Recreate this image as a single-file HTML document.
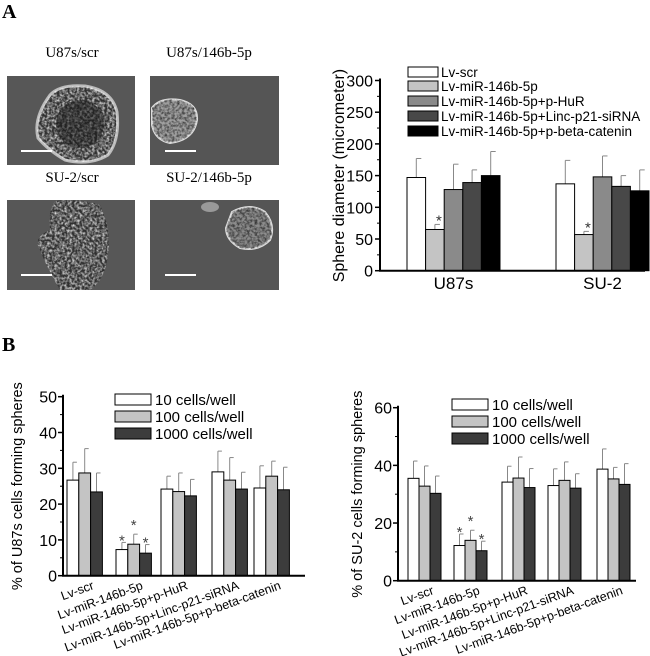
<!DOCTYPE html>
<html><head><meta charset="utf-8"><style>
body{margin:0;background:#fff;width:650px;height:656px;overflow:hidden}
svg{display:block}
.ser{font-family:"Liberation Serif",serif}
.san{font-family:"Liberation Sans",sans-serif}
</style></head><body>
<svg id="fig" width="650" height="656" viewBox="0 0 650 656">
<defs>
<filter id="tex" x="0" y="0" width="1" height="1">
<feTurbulence type="fractalNoise" baseFrequency="0.4" numOctaves="2" seed="3" result="n"/>
<feColorMatrix in="n" type="matrix" values="0 0 0 0 1  0 0 0 0 1  0 0 0 0 1  1.6 0 0 0 -0.55" result="w"/>
<feComposite in="w" in2="SourceAlpha" operator="in"/>
</filter>
<filter id="tex2" x="0" y="0" width="1" height="1">
<feTurbulence type="fractalNoise" baseFrequency="0.4" numOctaves="2" seed="7" result="n"/>
<feColorMatrix in="n" type="matrix" values="0 0 0 0 0  0 0 0 0 0  0 0 0 0 0  1.4 0 0 0 -0.5" result="w"/>
<feComposite in="w" in2="SourceAlpha" operator="in"/>
</filter>
</defs>
<text x="2" y="18" class="ser" font-size="20" font-weight="bold">A</text>
<text x="2" y="351" class="ser" font-size="20" font-weight="bold">B</text>

<g>
<text x="72" y="57" class="ser" font-size="15" text-anchor="middle">U87s/scr</text>
<text x="209" y="57" class="ser" font-size="15" text-anchor="middle">U87s/146b-5p</text>
<text x="72" y="182" class="ser" font-size="15" text-anchor="middle">SU-2/scr</text>
<text x="209" y="182" class="ser" font-size="15" text-anchor="middle">SU-2/146b-5p</text>
<g>
<rect x="7" y="76" width="128" height="89" fill="#575757"/>
<path d="M50 95 Q60 84 85 86 Q112 90 117 112 Q120 140 108 155 Q90 166 65 160 Q48 150 38 138 Q33 118 50 95Z" fill="#303030" stroke="#bbb" stroke-width="3"/>
<path d="M50 95 Q60 84 85 86 Q112 90 117 112 Q120 140 108 155 Q90 166 65 160 Q48 150 38 138 Q33 118 50 95Z" fill="#ddd" filter="url(#tex)"/>
<ellipse cx="80" cy="124" rx="24" ry="24" fill="#151515" opacity="0.5"/>
<rect x="21" y="150" width="31" height="2" fill="#fff"/>
</g>
<g>
<rect x="150" y="76" width="129" height="89" fill="#555"/>
<path d="M152 108 Q160 97 180 100 Q198 104 197 120 Q194 140 170 143 Q155 140 152 125Z" fill="#a0a0a0" stroke="#ddd" stroke-width="2"/>
<path d="M152 108 Q160 97 180 100 Q198 104 197 120 Q194 140 170 143 Q155 140 152 125Z" fill="#000" filter="url(#tex2)"/>
<rect x="165" y="150" width="31" height="2" fill="#fff"/>
</g>
<g>
<rect x="7" y="200" width="128" height="90" fill="#575757"/>
<path d="M55 201 Q80 198 100 205 Q112 230 108 255 Q105 280 90 290 L60 290 Q48 270 40 250 Q32 238 50 230 Q48 210 55 201Z" fill="#303030"/>
<path d="M55 201 Q80 198 100 205 Q112 230 108 255 Q105 280 90 290 L60 290 Q48 270 40 250 Q32 238 50 230 Q48 210 55 201Z" fill="#ddd" filter="url(#tex)"/>
<rect x="21" y="274" width="31" height="2" fill="#fff"/>
</g>
<g>
<rect x="150" y="200" width="129" height="90" fill="#555"/>
<path d="M232 212 Q250 202 265 212 Q276 225 270 240 Q258 252 240 248 Q226 240 226 228Z" fill="#8c8c8c" stroke="#ddd" stroke-width="2"/>
<path d="M232 212 Q250 202 265 212 Q276 225 270 240 Q258 252 240 248 Q226 240 226 228Z" fill="#000" filter="url(#tex2)"/>
<ellipse cx="210" cy="207" rx="9" ry="5" fill="#999"/>
<rect x="165" y="274" width="31" height="2" fill="#fff"/>
</g>
</g>
<g id="chartA"></g>
<g id="chartB1"></g>
<g id="chartB2"></g>
</svg>
<script>
const NS="http://www.w3.org/2000/svg";
// Chart A data
const aGroups=["U87s","SU-2"];
const aSeries=["Lv-scr","Lv-miR-146b-5p","Lv-miR-146b-5p+p-HuR","Lv-miR-146b-5p+Linc-p21-siRNA","Lv-miR-146b-5p+p-beta-catenin"];
const aValues=[[147,137],[65,57],[128,148],[139,133],[150,126]];
const aErrors=[[30,37],[8,5],[40,33],[20,17],[38,33]];
const aStars=[[false,false],[true,true],[false,false],[false,false],[false,false]];
const aTicks=[0,50,100,150,200,250,300];
const aColors=["#fff","#c4c4c4","#8a8a8a","#484848","#000"];
// Chart B data
const bCategories=["Lv-scr","Lv-miR-146b-5p","Lv-miR-146b-5p+p-HuR","Lv-miR-146b-5p+Linc-p21-siRNA","Lv-miR-146b-5p+p-beta-catenin"];
const bSeries=["10 cells/well","100 cells/well","1000 cells/well"];
const b1Values=[[26.7,7.3,24.2,29,24.5],[28.7,8.8,23.5,26.7,27.8],[23.4,6.3,22.3,24.2,24]];
const b1Errors=[[5,2,3.6,5.8,6.2],[6.8,2.8,5.2,6.3,4.2],[5.3,2.4,4.6,4.7,6.3]];
const b1Ticks=[0,10,20,30,40,50];
const b2Values=[[35.5,12.2,34.2,33,38.7],[32.8,14,35.6,34.8,35.3],[30.3,10.4,32.3,32.1,33.4]];
const b2Errors=[[6,4,5.5,5.8,7],[7,3.5,7.3,6.4,4],[6,3.3,6.6,5,7.2]];
const b2Ticks=[0,20,40,60];
const bStarCat=1;
const bColors=["#fff","#c4c4c4","#3c3c3c"];

function mk(parent,tag,attrs,text){const e=document.createElementNS(NS,tag);for(const k in attrs)e.setAttribute(k,attrs[k]);if(text!==undefined)e.textContent=text;parent.appendChild(e);return e;}

// ---- Chart A
(function(){
 const g=document.getElementById("chartA");
 const x0=380,x1=645,yB=270.7,yT=80.5,max=300;
 const y=v=>yB-(v/max)*(yB-yT);
 const bw=18.6, gStart=[407,556];
 aTicks.forEach(t=>{
  const l=mk(g,"line",{x1:x0-5,x2:x0,y1:y(t),y2:y(t),stroke:"#000","stroke-width":1.5});
  
  const tx=mk(g,"text",{x:x0-7,y:y(t)+6,"text-anchor":"end","font-size":16,class:"san"},t);
  
  if(t<max){const m=mk(g,"line",{x1:x0-3,x2:x0,y1:y(t+25),y2:y(t+25),stroke:"#000"});}
 });
 aSeries.forEach((s,si)=>{
  aGroups.forEach((gr,gi)=>{
   const v=aValues[si][gi],e=aErrors[si][gi];
   const bx=gStart[gi]+si*bw;
   const cx=bx+bw/2;
   const eb=mk(g,"line",{x1:cx,x2:cx,y1:y(v),y2:y(v+e),stroke:"#888","stroke-width":1});
   
   const cap=mk(g,"line",{x1:cx,x2:cx+5,y1:y(v+e),y2:y(v+e),stroke:"#888","stroke-width":1});
   
   const r=mk(g,"rect",{x:bx,y:y(v),width:bw,height:yB-y(v),fill:aColors[si],stroke:"#000","stroke-width":1});
   
   if(aStars[si][gi]){const st=mk(g,"text",{x:cx+4,y:y(v+e)+1,"font-size":15,"text-anchor":"middle",class:"san",fill:"#333"},"*");}
  });
 });
 const ax=mk(g,"path",{d:`M${x0} ${yT-2}V${yB}H${x1}`,fill:"none",stroke:"#000","stroke-width":2});
 
 aGroups.forEach((gr,gi)=>{const t=mk(g,"text",{x:gStart[gi]+bw*2.5,y:289,"text-anchor":"middle","font-size":17,class:"san"},gr);});
 const yt=mk(g,"text",{transform:`translate(344 ${(yB+yT)/2}) rotate(-90)`,"text-anchor":"middle","font-size":16,class:"san"},"Sphere diameter (micrometer)");
 
 const rows=[67,81,96,111,126];
 aSeries.forEach((s,si)=>{
  const r=mk(g,"rect",{x:408,y:rows[si],width:30,height:10,fill:aColors[si],stroke:"#000","stroke-width":1});
  
  const t=mk(g,"text",{x:441,y:rows[si]+10,"font-size":13.5,class:"san"},s);
  
 });
})();

// ---- Chart B
function chartB(id,o,vals,errs,ticks,title){
 const g=document.getElementById(id);
 const max=ticks[ticks.length-1];
 const y=v=>o.yB-(v/max)*(o.yB-o.yT);
 const step=ticks[1]-ticks[0];
 ticks.forEach(t=>{
  const l=mk(g,"line",{x1:o.x0-5,x2:o.x0,y1:y(t),y2:y(t),stroke:"#000","stroke-width":1.5});
  
  const tx=mk(g,"text",{x:o.x0-6,y:y(t)+6,"text-anchor":"end","font-size":16,class:"san"},t);
  
  if(t<max){const m=mk(g,"line",{x1:o.x0-3,x2:o.x0,y1:y(t+step/2),y2:y(t+step/2),stroke:"#000"});}
 });
 bCategories.forEach((c,ci)=>{
  bSeries.forEach((s,si)=>{
   const v=vals[si][ci],e=errs[si][ci];
   const bx=o.starts[ci]+si*o.bw, cx=bx+o.bw/2;
   const eb=mk(g,"line",{x1:cx,x2:cx,y1:y(v),y2:y(v+e),stroke:"#888"});
   
   const cap=mk(g,"line",{x1:cx,x2:cx+4,y1:y(v+e),y2:y(v+e),stroke:"#888"});
   
   const r=mk(g,"rect",{x:bx,y:y(v),width:o.bw,height:o.yB-y(v),fill:bColors[si],stroke:"#000","stroke-width":1});
   
   if(ci===bStarCat){const st=mk(g,"text",{x:cx,y:y(v+e)-(si===1?8:1)+4,"font-size":15,"text-anchor":"middle",class:"san",fill:"#444"},"*");}
  });
  const ex=o.starts[ci]+o.bw*1.5+10;
  const lab=mk(g,"text",{transform:`translate(${ex} ${o.yB+13}) rotate(-20)`,"text-anchor":"end","font-size":12.5,class:"san"},c);
  
 });
 const ax=mk(g,"path",{d:`M${o.x0} ${o.yT-2}V${o.yB}H${o.x1}`,fill:"none",stroke:"#000","stroke-width":2});
 
 const yt=mk(g,"text",{transform:`translate(${o.tx} ${(o.yB+o.yT)/2}) rotate(-90)`,"text-anchor":"middle","font-size":14.5,class:"san"},title);
 
 bSeries.forEach((s,si)=>{
  const r=mk(g,"rect",{x:o.lx,y:o.ly+si*17,width:36,height:11,fill:bColors[si],stroke:"#000","stroke-width":1});
  
  const t=mk(g,"text",{x:o.lx+40,y:o.ly+si*17+11,"font-size":15,class:"san"},s);
  
 });
}
chartB("chartB1",{x0:63,x1:305,yB:575.7,yT:396.7,bw:11.8,starts:[67,116,161,212,254],lx:115,ly:394,tx:22},b1Values,b1Errors,b1Ticks,"% of U87s cells forming spheres");
chartB("chartB2",{x0:398,x1:636,yB:580.7,yT:407.7,bw:11,starts:[408,454,502,548,597],lx:452,ly:399,tx:362},b2Values,b2Errors,b2Ticks,"% of SU-2 cells forming spheres");
</script>
</body></html>
